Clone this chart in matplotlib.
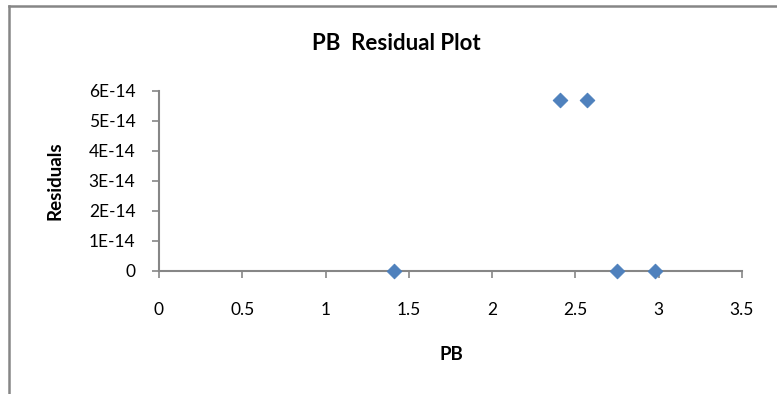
import matplotlib
matplotlib.use("Agg")
import matplotlib.pyplot as plt
from matplotlib.lines import Line2D

plt.rcParams['font.family'] = ['Lato', 'DejaVu Sans']

# Data
pb_values = [1.41, 2.41, 2.57, 2.75, 2.98]
residuals = [0.0, 5.684e-14, 5.684e-14, 0.0, 0.0]
x_ticks = [0, 0.5, 1, 1.5, 2, 2.5, 3, 3.5]
x_tick_labels = ["0", "0.5", "1", "1.5", "2", "2.5", "3", "3.5"]
y_ticks = [0, 1e-14, 2e-14, 3e-14, 4e-14, 5e-14, 6e-14]
y_tick_labels = ["0", "1E-14", "2E-14", "3E-14", "4E-14", "5E-14", "6E-14"]
title = "PB  Residual Plot"
x_label = "PB"
y_label = "Residuals"

W, H = 777, 394
fig = plt.figure(figsize=(W / 100, H / 100), dpi=100)
fig.patch.set_facecolor("white")

# outer chart frame (open on right and bottom, as cropped)
frame_col = "#868686"
fig.add_artist(Line2D([8.5 / W, 1.0], [1 - 6 / H, 1 - 6 / H], color=frame_col, lw=1.8,
                      transform=fig.transFigure))
fig.add_artist(Line2D([8.5 / W, 8.5 / W], [0.0, 1 - 6 / H], color=frame_col, lw=1.8,
                      transform=fig.transFigure))

left, right = 159 / W, 742 / W
bottom, top = 1 - 270.5 / H, 1 - 90.5 / H
ax = fig.add_axes([left, bottom, right - left, top - bottom])

ax.scatter(pb_values, residuals, marker="D", s=7.5 ** 2, color="#4F81BD",
           edgecolors="#4A7EBB", linewidths=0.6, zorder=3, clip_on=False)

ax.set_xlim(0, 3.5)
ax.set_ylim(0, 6e-14)
ax.set_xticks(x_ticks)
ax.set_xticklabels(x_tick_labels)
ax.set_yticks(y_ticks)
ax.set_yticklabels(y_tick_labels)

axis_col = "#868686"
for s in ["top", "right"]:
    ax.spines[s].set_visible(False)
for s in ["left", "bottom"]:
    ax.spines[s].set_color(axis_col)
    ax.spines[s].set_linewidth(1.5)
ax.tick_params(axis="both", colors=axis_col, labelcolor="black", length=5, width=1.2,
               labelsize=12.5)
ax.tick_params(axis="x", pad=18)
ax.tick_params(axis="y", pad=12)

fig.text(451 / W, 1 - 354 / H, x_label, fontweight="bold", fontsize=13.5,
         ha="center", va="center")
fig.text(55 / W, 1 - 181 / H, y_label, fontweight="bold", fontsize=13.5,
         ha="center", va="center", rotation=90)
fig.text(396 / W, 1 - 43 / H, title, fontweight="bold", fontsize=16, ha="center", va="center")

fig.savefig("out.png", dpi=100)
